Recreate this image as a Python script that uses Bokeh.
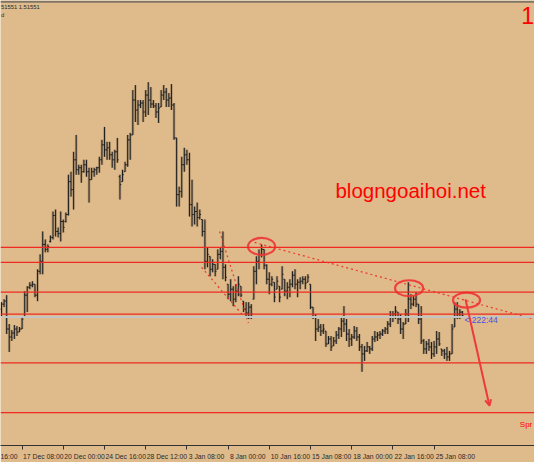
from bokeh.plotting import figure
from bokeh.models import (ColumnDataSource, Range1d, LinearAxis, FixedTicker, Span,
                          Label, Arrow, OpenHead)
from bokeh.embed import file_html
from bokeh.resources import INLINE

# ---------------- data (H4 bars) ----------------
high = [1.5170,1.5173,1.5177,1.5148,1.5142,1.5147,1.5146,1.5145,1.5156,1.5181,
        1.5186,1.5190,1.5191,1.5188,1.5203,1.5218,1.5241,1.5233,1.5228,1.5237,
        1.5261,1.5263,1.5245,1.5261,1.5253,1.5260,1.5298,1.5301,1.5321,1.5338,
        1.5308,1.5308,1.5313,1.5313,1.5305,1.5305,1.5305,1.5306,1.5316,1.5333,
        1.5346,1.5331,1.5331,1.5321,1.5323,1.5335,1.5298,1.5303,1.5311,1.5338,
        1.5340,1.5383,1.5388,1.5373,1.5373,1.5373,1.5383,1.5391,1.5386,1.5373,
        1.5370,1.5370,1.5383,1.5388,1.5385,1.5380,1.5389,1.5370,1.5335,1.5286,
        1.5316,1.5325,1.5323,1.5320,1.5293,1.5266,1.5270,1.5263,1.5253,1.5253,
        1.5225,1.5216,1.5213,1.5208,1.5223,1.5225,1.5241,1.5208,1.5188,1.5193,
        1.5186,1.5188,1.5196,1.5186,1.5171,1.5170,1.5170,1.5168,1.5206,1.5216,
        1.5223,1.5228,1.5223,1.5208,1.5200,1.5196,1.5190,1.5196,1.5186,1.5206,
        1.5193,1.5190,1.5193,1.5201,1.5203,1.5193,1.5195,1.5196,1.5196,1.5198,
        1.5188,1.5165,1.5158,1.5153,1.5148,1.5148,1.5141,1.5136,1.5136,1.5135,
        1.5141,1.5145,1.5155,1.5166,1.5153,1.5143,1.5138,1.5146,1.5145,1.5138,
        1.5128,1.5126,1.5130,1.5126,1.5136,1.5141,1.5140,1.5141,1.5143,1.5145,
        1.5151,1.5161,1.5161,1.5166,1.5160,1.5158,1.5150,1.5163,1.5190,1.5178,
        1.5176,1.5180,1.5168,1.5166,1.5133,1.5131,1.5133,1.5130,1.5131,1.5141,
        1.5140,1.5123,1.5123,1.5125,1.5121,1.5148,1.5170,1.5170,1.5163,1.5161]
low = [1.5156,1.5165,1.5138,1.5120,1.5131,1.5133,1.5136,1.5140,1.5143,1.5155,
       1.5160,1.5183,1.5185,1.5175,1.5171,1.5198,1.5198,1.5220,1.5220,1.5230,
       1.5233,1.5236,1.5235,1.5231,1.5240,1.5250,1.5257,1.5276,1.5263,1.5298,
       1.5298,1.5290,1.5300,1.5296,1.5270,1.5293,1.5296,1.5298,1.5300,1.5308,
       1.5316,1.5313,1.5313,1.5305,1.5303,1.5310,1.5273,1.5291,1.5301,1.5306,
       1.5313,1.5338,1.5351,1.5348,1.5365,1.5351,1.5356,1.5358,1.5365,1.5365,
       1.5355,1.5350,1.5366,1.5373,1.5366,1.5366,1.5363,1.5333,1.5266,1.5266,
       1.5275,1.5301,1.5308,1.5256,1.5246,1.5248,1.5246,1.5253,1.5236,1.5203,
       1.5205,1.5196,1.5200,1.5196,1.5203,1.5213,1.5193,1.5191,1.5173,1.5171,
       1.5166,1.5170,1.5176,1.5175,1.5160,1.5155,1.5153,1.5153,1.5173,1.5188,
       1.5203,1.5215,1.5203,1.5188,1.5178,1.5186,1.5170,1.5183,1.5170,1.5183,
       1.5176,1.5173,1.5175,1.5185,1.5183,1.5175,1.5183,1.5188,1.5183,1.5190,
       1.5163,1.5153,1.5131,1.5140,1.5136,1.5138,1.5125,1.5128,1.5121,1.5126,
       1.5128,1.5133,1.5135,1.5140,1.5131,1.5125,1.5126,1.5133,1.5131,1.5121,
       1.5100,1.5111,1.5120,1.5118,1.5121,1.5130,1.5131,1.5133,1.5136,1.5138,
       1.5138,1.5145,1.5150,1.5153,1.5148,1.5138,1.5133,1.5148,1.5150,1.5163,
       1.5166,1.5165,1.5148,1.5128,1.5118,1.5118,1.5121,1.5113,1.5115,1.5118,
       1.5126,1.5116,1.5113,1.5111,1.5111,1.5118,1.5145,1.5153,1.5153,1.5155]
open_ = [1.5163,1.5168,1.5171,1.5143,1.5135,1.5139,1.5143,1.5140,1.5143,1.5155,
         1.5177,1.5185,1.5187,1.5188,1.5177,1.5201,1.5211,1.5228,1.5223,1.5231,
         1.5235,1.5257,1.5241,1.5239,1.5251,1.5251,1.5258,1.5291,1.5283,1.5313,
         1.5303,1.5305,1.5301,1.5308,1.5301,1.5293,1.5301,1.5303,1.5305,1.5313,
         1.5328,1.5323,1.5325,1.5318,1.5313,1.5321,1.5296,1.5291,1.5301,1.5308,
         1.5333,1.5338,1.5373,1.5363,1.5368,1.5370,1.5361,1.5378,1.5373,1.5369,
         1.5367,1.5361,1.5366,1.5378,1.5381,1.5373,1.5375,1.5368,1.5335,1.5278,
         1.5281,1.5308,1.5318,1.5313,1.5268,1.5258,1.5261,1.5255,1.5253,1.5241,
         1.5211,1.5216,1.5203,1.5208,1.5203,1.5218,1.5221,1.5205,1.5188,1.5178,
         1.5183,1.5173,1.5181,1.5186,1.5171,1.5163,1.5159,1.5165,1.5173,1.5201,
         1.5211,1.5218,1.5223,1.5207,1.5193,1.5188,1.5190,1.5183,1.5186,1.5183,
         1.5193,1.5181,1.5185,1.5188,1.5197,1.5188,1.5190,1.5191,1.5193,1.5190,
         1.5188,1.5165,1.5155,1.5143,1.5145,1.5141,1.5141,1.5128,1.5133,1.5126,
         1.5131,1.5137,1.5143,1.5151,1.5148,1.5138,1.5133,1.5135,1.5141,1.5135,
         1.5125,1.5118,1.5121,1.5125,1.5123,1.5133,1.5135,1.5137,1.5138,1.5141,
         1.5143,1.5148,1.5155,1.5158,1.5160,1.5153,1.5143,1.5148,1.5158,1.5173,
         1.5168,1.5173,1.5168,1.5153,1.5131,1.5123,1.5128,1.5125,1.5118,1.5125,
         1.5133,1.5123,1.5121,1.5118,1.5115,1.5118,1.5145,1.5163,1.5158,1.5160]
close = [1.5168,1.5171,1.5143,1.5135,1.5139,1.5143,1.5140,1.5143,1.5153,1.5177,
         1.5185,1.5187,1.5188,1.5177,1.5201,1.5211,1.5228,1.5223,1.5226,1.5235,
         1.5257,1.5241,1.5239,1.5251,1.5245,1.5258,1.5291,1.5283,1.5313,1.5303,
         1.5305,1.5301,1.5308,1.5301,1.5293,1.5301,1.5303,1.5305,1.5313,1.5328,
         1.5323,1.5325,1.5318,1.5313,1.5321,1.5313,1.5288,1.5298,1.5308,1.5333,
         1.5338,1.5373,1.5363,1.5368,1.5370,1.5361,1.5378,1.5373,1.5369,1.5367,
         1.5361,1.5365,1.5378,1.5381,1.5373,1.5375,1.5368,1.5335,1.5278,1.5281,
         1.5308,1.5318,1.5313,1.5268,1.5258,1.5261,1.5255,1.5258,1.5241,1.5211,
         1.5218,1.5203,1.5208,1.5201,1.5218,1.5221,1.5205,1.5195,1.5178,1.5183,
         1.5173,1.5181,1.5188,1.5177,1.5163,1.5159,1.5165,1.5158,1.5201,1.5211,
         1.5218,1.5223,1.5207,1.5193,1.5188,1.5193,1.5175,1.5191,1.5175,1.5198,
         1.5181,1.5185,1.5188,1.5197,1.5188,1.5190,1.5191,1.5193,1.5189,1.5195,
         1.5165,1.5155,1.5143,1.5145,1.5141,1.5143,1.5128,1.5133,1.5125,1.5131,
         1.5137,1.5143,1.5151,1.5148,1.5138,1.5133,1.5135,1.5141,1.5135,1.5125,
         1.5118,1.5121,1.5125,1.5123,1.5133,1.5135,1.5137,1.5138,1.5141,1.5143,
         1.5148,1.5155,1.5158,1.5161,1.5153,1.5143,1.5148,1.5158,1.5173,1.5168,
         1.5173,1.5168,1.5153,1.5131,1.5123,1.5128,1.5125,1.5118,1.5125,1.5133,
         1.5128,1.5121,1.5118,1.5115,1.5118,1.5143,1.5163,1.5158,1.5160,1.5156]

# time axis: bar index of each tick mark, and its label
tick_bars = [8, 24, 40, 56, 72, 88, 104, 120, 136, 152, 168]
tick_labels = ["17 Dec 08:00", "20 Dec 00:00", "24 Dec 16:00", "28 Dec 12:00",
               "3 Jan 08:00", "8 Jan 00:00", "10 Jan 16:00", "15 Jan 08:00",
               "18 Jan 00:00", "22 Jan 16:00", "25 Jan 08:00"]
cut_label = "16:00"          # tail of the label left of the window edge

levels = [1.5225, 1.5210, 1.5180, 1.5158, 1.5109, 1.5059]   # red horizontal lines
bid = 1.51551

# annotations drawn on the chart
circle_x = [101.0, 158.3, 180.6]
circle_y = [1.5226, 1.5184, 1.5172]
circle_w = [10.5, 10.9, 10.5]
circle_h = [0.0017, 0.0016, 0.0015]
trend_xs = [[98.3, 208.0], [84.7, 95.9], [77.7, 94.0]]
trend_ys = [[1.5230, 1.5152], [1.5241, 1.5149], [1.5205, 1.5156]]

BG = "#DFBA8A"
RED = "#EE2A22"
DARK = "#1f1f1f"

n = len(close)
idx = list(range(n))
src = ColumnDataSource(dict(
    x=idx, high=high, low=low, open=open_, close=close,
    xl=[i - 0.5 for i in idx], xr=[i + 0.5 for i in idx]))

p = figure(width=534, height=462, x_range=Range1d(-0.39, 207.0),
           y_range=Range1d(1.5026, 1.5473),
           x_axis_type=None, y_axis_type=None, toolbar_location=None,
           output_backend="svg", background_fill_color=BG, border_fill_color=BG,
           min_border_left=0, min_border_right=0, min_border_top=0, min_border_bottom=0,
           outline_line_color=None)

# x axis: tick marks as minor ticks, labels placed just right of each tick
label_pos = [round(t + 0.62 * len(s) + 0.8, 2) for t, s in zip(tick_bars, tick_labels)]
cut_pos = 2.4
ax = LinearAxis(ticker=FixedTicker(ticks=[cut_pos] + label_pos, minor_ticks=tick_bars),
                major_label_overrides={**{cut_pos: cut_label},
                                       **{lp: s for lp, s in zip(label_pos, tick_labels)}})
ax.major_tick_out = 0
ax.major_tick_in = 0
ax.minor_tick_out = 4
ax.minor_tick_in = 0
ax.minor_tick_line_color = "#333333"
ax.axis_line_color = "#333333"
ax.major_label_text_font = "Liberation Sans"
ax.major_label_text_font_size = "6.8px"
ax.major_label_text_color = "#2a2a2a"
ax.major_label_standoff = 3
p.add_layout(ax, "below")

# top window border
p.add_layout(Span(location=1.54718, dimension="width", line_color="#807565", line_width=2))

# horizontal levels
p.add_layout(Span(location=bid, dimension="width", line_color="#C4C4C4", line_width=2))
for lv in levels:
    p.add_layout(Span(location=lv, dimension="width", line_color=RED, line_width=1.3))

# OHLC bars
p.segment(x0="x", y0="low", x1="x", y1="high", source=src,
          line_color="#87735a", line_width=2.6, line_alpha=0.5)
p.segment(x0="x", y0="low", x1="x", y1="high", source=src,
          line_color=DARK, line_width=1)
p.segment(x0="xl", y0="open", x1="x", y1="open", source=src,
          line_color=DARK, line_width=1)
p.segment(x0="x", y0="close", x1="xr", y1="close", source=src,
          line_color=DARK, line_width=1)

# dotted trend lines
p.multi_line(xs=trend_xs, ys=trend_ys, line_color=RED, line_width=1.2,
             line_dash="2 3", line_alpha=0.9)

# circles
p.ellipse(x=circle_x, y=circle_y, width=circle_w, height=circle_h,
          fill_color=None, line_color="#EE3535", line_width=2.2, line_alpha=0.9)

# arrow
p.add_layout(Arrow(x_start=180.2, y_start=1.5173, x_end=189.5, y_end=1.5066,
                   line_color="#EE3A3A", line_width=2,
                   end=OpenHead(size=6, line_color="#EE3A3A", line_width=2)))

# texts
p.add_layout(Label(x=129.7, y=1.5282, text="blogngoaihoi.net", text_color="#FF0000",
                   text_font="Liberation Sans", text_font_size="20.5px",
                   text_baseline="alphabetic"))
p.add_layout(Label(x=179.8, y=1.5152, text="< 222:44", text_color="#4F4FE0",
                   text_font="Liberation Sans", text_font_size="8.5px",
                   text_baseline="middle"))
p.add_layout(Label(x=-0.2, y=1.5466, text="51551 1.51551", text_color="#2a2a2a",
                   text_font="Liberation Sans", text_font_size="5.8px",
                   text_baseline="middle"))
p.add_layout(Label(x=-0.2, y=1.5458, text="d", text_color="#2a2a2a",
                   text_font="Liberation Sans", text_font_size="5.8px",
                   text_baseline="middle"))
p.add_layout(Label(x=201.9, y=1.5466, text="1", text_color="#FF0000",
                   text_font="Liberation Sans", text_font_size="23px",
                   text_baseline="top"))
p.add_layout(Label(x=201.3, y=1.5047, text="Spr", text_color="#FF0000",
                   text_font="Liberation Sans", text_font_size="8px",
                   text_baseline="alphabetic"))

open("out.html", "w").write(file_html(p, INLINE))
